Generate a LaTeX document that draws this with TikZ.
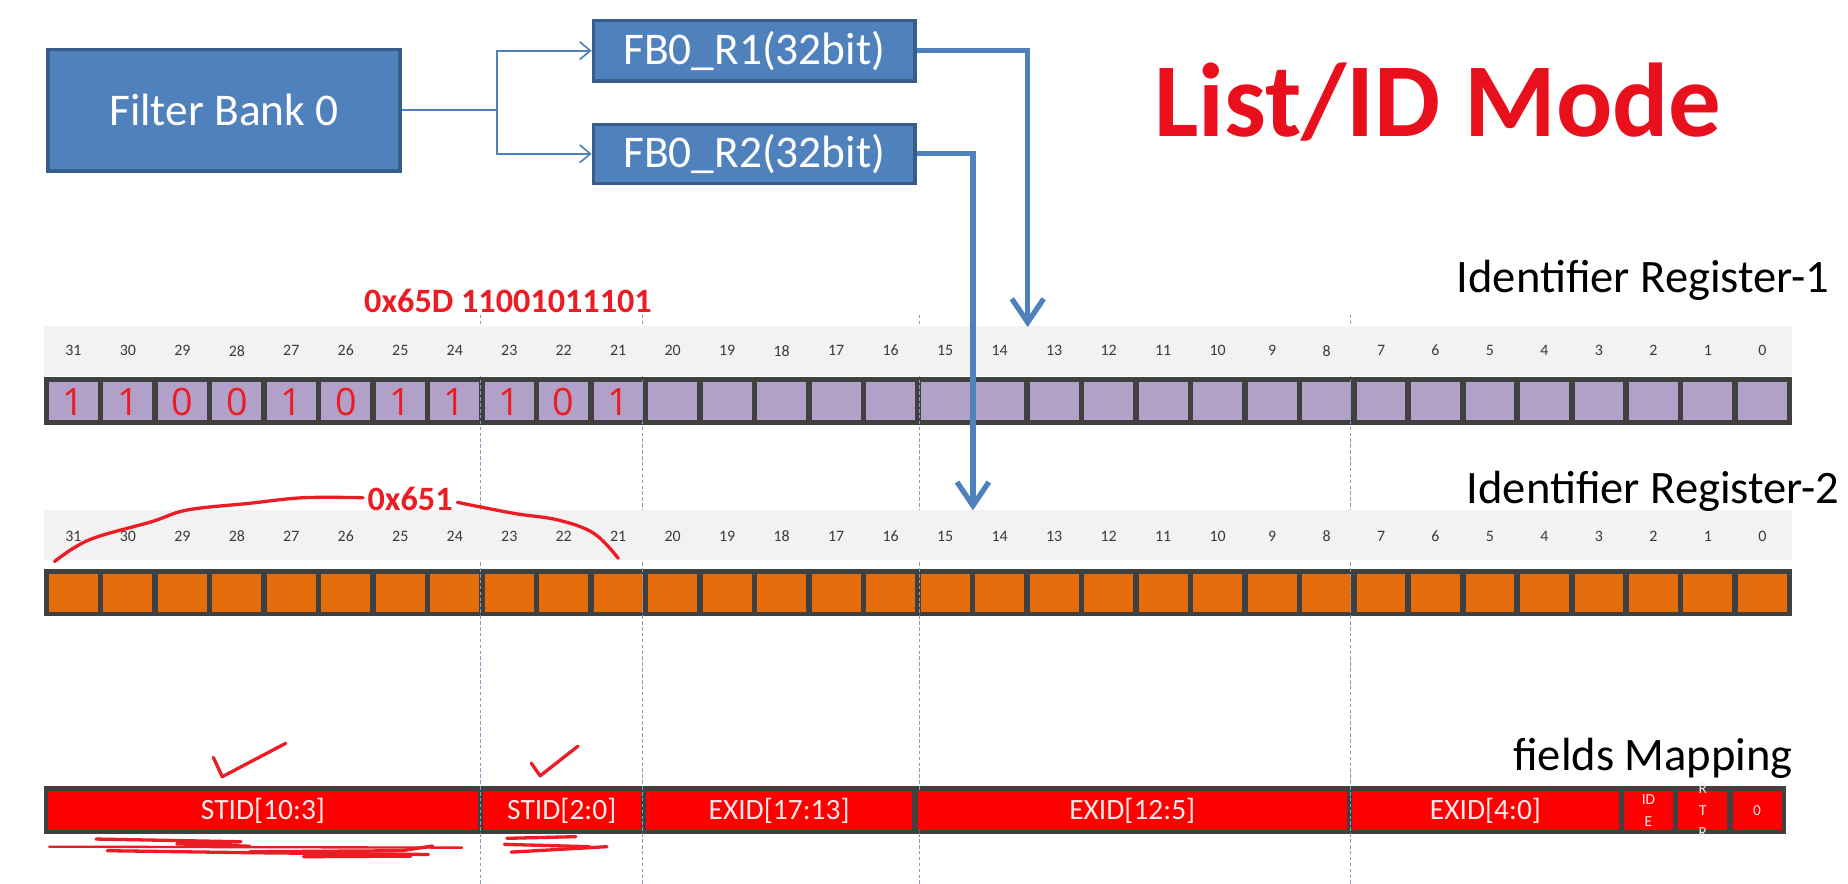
\documentclass[tikz,border=0pt]{standalone}
\usepackage{fontspec}
\setmainfont{Carlito}
\newfontfamily\handfont{Open Sans}
\usetikzlibrary{arrows.meta}
\definecolor{boxblue}{HTML}{4F81BD}
\definecolor{boxedge}{HTML}{385D8A}
\definecolor{bandgray}{HTML}{F2F2F2}
\definecolor{bardark}{HTML}{404040}
\definecolor{purplecell}{HTML}{B1A0C7}
\definecolor{orangecell}{HTML}{E46C0A}
\definecolor{fieldred}{HTML}{FF0000}
\definecolor{penred}{HTML}{EC1C24}
\definecolor{titlered}{HTML}{E8101C}
\definecolor{dashblue}{HTML}{7F9FC3}
\definecolor{numgray}{HTML}{3A3A3A}
\definecolor{fieldtext}{HTML}{FBEAEA}
\tikzset{
  bank/.style={draw=boxedge, line width=3pt, fill=boxblue, text=white, inner sep=0pt,
    font=\fontsize{38.5}{44}\selectfont},
  feed/.style={draw=boxblue, line width=1.4pt, line join=miter},
  feedtip/.style={-{Straight Barb[length=9pt,width=15pt]}},
  bigarrow/.style={draw=boxblue, line width=4.5pt, line join=miter,
    -{Straight Barb[length=20pt,width=27pt]}},
  bitnum/.style={inner sep=0pt, text=numgray, font=\fontsize{13.5}{15}\selectfont},
  regtitle/.style={inner sep=0pt, anchor=base east, text=black, font=\fontsize{39.5}{45}\selectfont},
  handtext/.style={inner sep=0pt, anchor=base, text=penred, font=\bfseries\fontsize{29}{33}\selectfont},
  digit/.style={inner sep=0pt, text=penred, font=\handfont\fontsize{32}{36}\selectfont},
  pen/.style={draw=penred, line width=2.8pt, line cap=round, line join=round},
  field/.style={fill=fieldred, inner sep=0pt, minimum height=32.5pt, text=fieldtext,
    font=\fontsize{25}{28}\selectfont},
  smallfield/.style={fill=fieldred, inner sep=0pt, minimum height=32.5pt, minimum width=41.5pt},
  smalltext/.style={inner sep=0pt, text=fieldtext, align=center, font=\fontsize{13}{18.5}\selectfont},
  dashline/.style={draw=dashblue, line width=0.8pt, dash pattern=on 3pt off 2pt},
}
\begin{document}
\begin{tikzpicture}[x=1pt,y=-1pt]
\useasboundingbox (0,0) rectangle (1568,750);
\fill[white] (0,0) rectangle (1568,750);

% register bars
\fill[bardark] (37,320) rectangle (1520.5,361);
\foreach \i in {0,...,31} {
  \fill[purplecell] ({41.5+\i*46.23},324.5) rectangle ({83+\i*46.23},356.5);
}
\fill[bardark] (37,482.5) rectangle (1520.5,523);
\foreach \i in {0,...,31} {
  \fill[orangecell] ({41.5+\i*46.23},487) rectangle ({83+\i*46.23},519);
}
\fill[bardark] (37,667) rectangle (1515.6,708);

% dashed guide lines
\foreach \x in {407.5,545,780.5,1146} {
  \draw[dashline] (\x,267) -- (\x,750);
}

% header bands
\fill[bandgray] (37,277) rectangle (1520.5,319);
\fill[bandgray] (37,433) rectangle (1520.5,475);

% bit numbers
\foreach \i in {0,...,31} {
  \pgfmathtruncatemacro{\b}{31-\i}
  \node[bitnum] (ra\b) at ({62.25+\i*46.23},297.5) {\b};
  \node[bitnum] (rb\b) at ({62.25+\i*46.23},455) {\b};
}

% fields
\node[field, minimum width=364.2pt] (fa) at ({41+364.2/2},687.75) {STID[10:3]};
\node[field, minimum width=133.7pt] (fb2) at ({41+8*46.1+133.7/2},687.75) {STID[2:0]};
\node[field, minimum width=225.9pt] (fc) at ({41+11*46.1+225.9/2},687.75) {EXID[17:13]};
\node[field, minimum width=364.2pt] (fd) at ({41+16*46.1+364.2/2},687.75) {EXID[12:5]};
\node[field, minimum width=225.9pt] (fe) at ({41+24*46.1+225.9/2},687.75) {EXID[4:0]};
\node[smallfield] (ff) at ({41+29*46.1+20.75},687.75) {};
\node[smallfield] (fg) at ({41+30*46.1+20.75},687.75) {};
\node[smallfield] (fh) at ({41+31*46.1+20.75},687.75) {};
\node[smalltext] (fftext) at (ff.center) {ID\\E};
\node[smalltext] (fgtext) at (fg.center) {R\\T\\R};
\node[smalltext] (fhtext) at (fh.center) {0};

% titles
\node[inner sep=0pt, anchor=base, text=titlered, font=\bfseries\fontsize{89}{100}\selectfont]
  (ttl) at (1220,116) {List/ID Mode};
\node[regtitle] (lab1) at (1552.5,248.5) {Identifier Register-1};
\node[regtitle] (lab2) at (1561,427.5) {Identifier Register-2};
\node[regtitle] (lab3) at (1521.5,654) {fields Mapping};

% filter bank boxes
\node[bank, minimum width=299pt, minimum height=103pt] (fbank) at (190,93.5) {Filter Bank 0};
\node[bank, minimum width=273pt, minimum height=51.5pt] (r1) at (640,43) {FB0\_R1(32bit)};
\node[bank, minimum width=273pt, minimum height=50pt] (r2) at (640,130.5) {FB0\_R2(32bit)};

% thin connectors
\coordinate (jn) at (421.5,93.5);
\draw[feed] (fbank.east) -- (jn);
\draw[feed, feedtip] (jn) |- (r1.west);
\draw[feed, feedtip] (jn) |- (r2.west);

% thick arrows
\coordinate (t1) at (872,277.5);
\coordinate (t2) at (825.5,433);
\draw[bigarrow] (r1.east) -| (t1);
\draw[bigarrow] (r2.east) -| (t2);

% hand annotations
\node[handtext] (hex1) at (431,265.5) {0x65D 11001011101};
\node[handtext] (hex2) at (348,433) {0x651};
\foreach \d [count=\i from 0] in {1,1,0,0,1,0,1,1,1,0,1} {
  \node[digit] (hd\i) at ({62.25+\i*46.23},341) {\d};
}
\draw[pen] plot[smooth, tension=0.6] coordinates {(46.2,476.5) (75.8,458) (128.8,442.6) (159,432.7) (212,427) (257.6,422.3) (308,422.3)};
\draw[pen] plot[smooth, tension=0.6] coordinates {(388,426.2) (435.6,435.5) (473.5,441.2) (503.8,452.5) (524.6,473.7)};
\draw[pen] (181,642.6) -- (188.6,659) -- (242.4,630.7);
\draw[pen] (450.8,647.5) -- (458.3,658.3) -- (490.5,633);
% scribbles
\draw[pen, line width=2pt] (41.7,718.4) -- (392,719.2);
\draw[pen] (81.4,711.9) -- (204.5,714.2) -- (150,716) -- (212,718);
\draw[pen] (91,721.8) -- (212,723.5) -- (363.6,725);
\draw[pen] (212,722.7) -- (341,721.8) -- (367,717.8);
\draw[pen] (257.6,726.9) -- (348.5,726.4);
\draw[pen] (430,711.3) -- (488.6,709.9);
\draw[pen] (428,716.4) -- (500,718.4);
\draw[pen] (433.7,723) -- (515,718.4);
\end{tikzpicture}
\end{document}
